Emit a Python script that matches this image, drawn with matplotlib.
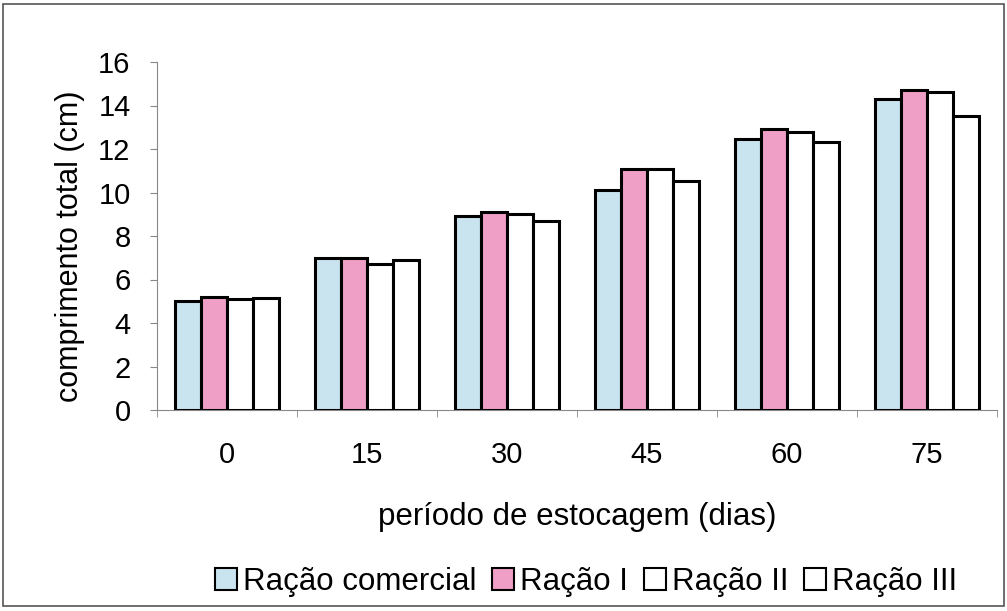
import matplotlib
matplotlib.use("Agg")
import matplotlib.pyplot as plt
from matplotlib.patches import Rectangle
import numpy as np

plt.rcParams['font.family'] = ['Liberation Sans', 'DejaVu Sans']

categories = ["0", "15", "30", "45", "60", "75"]
series_names = ["Ração comercial", "Ração I", "Ração II", "Ração III"]
racao_comercial = [5.0, 7.0, 8.9, 10.1, 12.45, 14.3]
racao_i = [5.2, 7.0, 9.1, 11.1, 12.9, 14.7]
racao_ii = [5.12, 6.7, 9.0, 11.1, 12.8, 14.6]
racao_iii = [5.15, 6.9, 8.7, 10.55, 12.3, 13.5]
colors = ["#c9e3ef", "#ef9fc6", "#ffffff", "#ffffff"]

fig = plt.figure(figsize=(10.07, 6.11), dpi=100)
ax = fig.add_axes([157/1007, 1-410/611, 840/1007, 348/611])

x = np.arange(len(categories))
w = 0.186
data = [racao_comercial, racao_i, racao_ii, racao_iii]
for i, (vals, c, name) in enumerate(zip(data, colors, series_names)):
    ax.bar(x + (i - 1.5) * w, vals, width=w, color=c, edgecolor="black",
           linewidth=2.2, label=name, zorder=3)

ax.set_xlim(-0.5, len(categories) - 0.5)
ax.set_ylim(0, 16)
ax.set_yticks(np.arange(0, 17, 2))
ax.set_xticks(x)
ax.set_xticklabels(categories)
ax.set_xticks(np.arange(-0.5, len(categories), 1), minor=True)
ax.tick_params(axis='x', which='major', length=0, pad=22, labelsize=21)
ax.tick_params(axis='x', which='minor', length=5, color="#888888")
ax.tick_params(axis='y', length=5, color="#888888", labelsize=21, pad=14)

for s in ["top", "right"]:
    ax.spines[s].set_visible(False)
ax.spines["left"].set_color("#888888")
ax.spines["bottom"].set_color("#888888")

ax.set_ylabel("comprimento total (cm)", fontsize=22)
ax.yaxis.set_label_coords(-0.086, 0.47)
ax.set_xlabel("período de estocagem (dias)", fontsize=22.5, labelpad=24)

leg = fig.legend(loc="center", bbox_to_anchor=(586/1007, 1-582/611), ncol=4,
                 frameon=False, fontsize=22.5, handlelength=0.7, handleheight=0.7,
                 handletextpad=0.2, columnspacing=0.5)
for h in leg.legend_handles:
    h.set_linewidth(1.5)

fig.patches.append(Rectangle((0.003, 0.008), 0.994, 0.985, transform=fig.transFigure,
                             fill=False, edgecolor="#555555", linewidth=1.2))

fig.savefig("out.png", dpi=100)
